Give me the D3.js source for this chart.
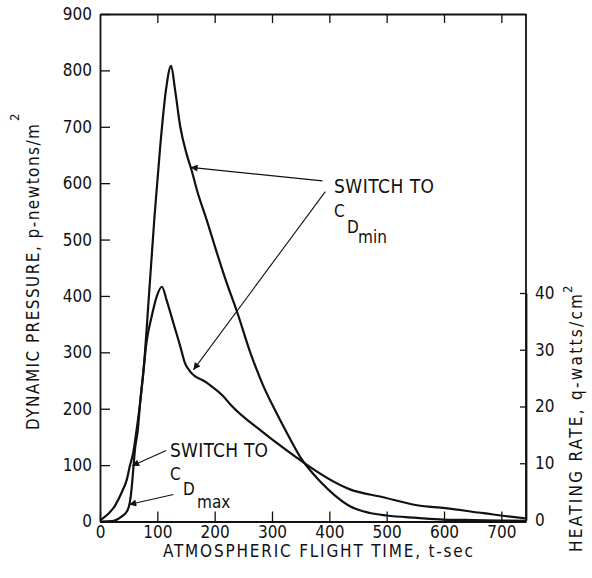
<!DOCTYPE html>
<html>
<head>
<meta charset="utf-8">
<script src="https://cdn.jsdelivr.net/npm/d3@7"></script>
<style>
  body { margin: 0; background: #fff; }
  svg { display: block; font-family: "DejaVu Sans Condensed", "Liberation Sans Narrow", sans-serif; }
</style>
</head>
<body>
<svg></svg>
<script>
/* data */
var dpTime  = [0, 20, 38, 47, 52, 55, 58, 61, 66, 70, 76, 85, 95, 105, 115, 124, 131, 140, 151, 160, 169, 186, 204, 221, 239, 262, 285, 305, 326, 352, 384, 410, 436, 471, 500, 553, 599, 650, 698, 742];
var dpValue = [0, 0.5, 9, 18, 34, 57, 92, 128, 163, 211, 269, 395, 540, 665, 765, 808, 765, 700, 652, 622, 588, 535, 476, 423, 372, 300, 240, 198, 157, 110, 71, 46, 27, 15, 10.6, 6.5, 3.5, 2.5, 1.8, 1];

var hrTime  = [0, 5, 26, 38, 47, 52, 58, 64, 70, 76, 81, 90, 99, 108, 116, 128, 140, 148, 157, 186, 215, 227, 285, 343, 354, 436, 494, 553, 602, 669, 727, 742];
var hrValue = [0, 0.3, 2.5, 4.9, 7.2, 9.5, 11.9, 16, 20.7, 26.5, 31.2, 35.8, 39.4, 41.1, 38.8, 34.7, 30.6, 27.7, 26.2, 24.2, 21.8, 20.4, 15.4, 11.0, 10.2, 5.4, 4.0, 2.6, 2.1, 1.2, 0.45, 0.3];

var xTicks = [0, 100, 200, 300, 400, 500, 600, 700];
var yLeftTicks = [0, 100, 200, 300, 400, 500, 600, 700, 800, 900];
var yRightTicks = [0, 10, 20, 30, 40];

// arrows in data units (t, dynamic pressure): tail then tip
var arrowTail = [[388, 604], [393, 585], [115.5, 126], [128, 48]];
var arrowTip  = [[158, 628], [163, 269], [56, 99], [51, 30]];

/* svg setting */
var svgWidth = 592;
var svgHeight = 578;
var margin = {top: 14, right: 66, bottom: 56.5, left: 100};
var width = svgWidth - margin.left - margin.right;
var height = svgHeight - margin.top - margin.bottom;

var svg = d3.select("svg")
    .attr('width', svgWidth)
    .attr('height', svgHeight);

var scale = {};
scale.x = d3.scaleLinear().domain([0, 743]).range([margin.left, margin.left + width]);
scale.yL = d3.scaleLinear().domain([0, 900]).range([margin.top + height, margin.top]);
scale.yR = d3.scaleLinear().domain([0, 40]).range([margin.top + height - 1.5, 293]);

var ink = '#111';

/* axes */
svg.append('g')
    .attr('transform', translate(0, scale.yL(0)))
    .call(d3.axisBottom(scale.x).tickValues(xTicks).tickSizeInner(-10).tickSizeOuter(0).tickPadding(4));

svg.append('g')
    .attr('transform', translate(0, margin.top))
    .call(d3.axisTop(scale.x).tickValues(xTicks.slice(1)).tickSizeInner(-9).tickSizeOuter(0).tickFormat(''));

svg.append('g')
    .attr('transform', translate(margin.left, 0))
    .call(d3.axisLeft(scale.yL).tickValues(yLeftTicks).tickSizeInner(-10).tickSizeOuter(0).tickPadding(8));

svg.append('g')
    .attr('transform', translate(margin.left + width, 0))
    .call(d3.axisRight(scale.yR).tickValues(yRightTicks).tickSizeInner(-6).tickSizeOuter(0).tickPadding(9));

// right frame line full height
svg.append('line')
    .attr('x1', margin.left + width).attr('x2', margin.left + width)
    .attr('y1', margin.top).attr('y2', scale.yL(0))
    .attr('stroke', ink).attr('stroke-width', 1.8);

svg.selectAll('.domain').attr('stroke', ink).attr('stroke-width', 1.8);
svg.selectAll('.tick line').attr('stroke', ink).attr('stroke-width', 1.3);
svg.selectAll('.tick text')
    .attr('fill', ink)
    .style('font-size', '17px')
    .style('font-family', '"DejaVu Sans Condensed", sans-serif');

/* curves */
var line = d3.line().curve(d3.curveMonotoneX);

var dpPoints = dpTime.map(function(t, i){ return [scale.x(t), scale.yL(dpValue[i])]; });
var hrPoints = hrTime.map(function(t, i){ return [scale.x(t), scale.yR(hrValue[i])]; });

svg.append('path')
    .attr('d', line(dpPoints))
    .attr('fill', 'none').attr('stroke', ink).attr('stroke-width', 2.2);

svg.append('path')
    .attr('d', line(hrPoints))
    .attr('fill', 'none').attr('stroke', ink).attr('stroke-width', 2.2);

/* arrows */
svg.append('defs').append('marker')
    .attr('id', 'head')
    .attr('markerUnits', 'userSpaceOnUse')
    .attr('viewBox', '0 0 10 10')
    .attr('refX', 10).attr('refY', 5)
    .attr('markerWidth', 11).attr('markerHeight', 7)
    .attr('orient', 'auto')
  .append('path')
    .attr('d', 'M0,0 L10,5 L0,10 Z')
    .attr('fill', ink);

svg.selectAll('.arrow')
    .data(arrowTail)
    .enter()
    .append('line')
    .attr('class', 'arrow')
    .attr('x1', function(d){ return scale.x(d[0]); })
    .attr('y1', function(d){ return scale.yL(d[1]); })
    .attr('x2', function(d, i){ return scale.x(arrowTip[i][0]); })
    .attr('y2', function(d, i){ return scale.yL(arrowTip[i][1]); })
    .attr('stroke', ink).attr('stroke-width', 1.1)
    .attr('marker-end', 'url(#head)');

/* annotations */
function label(x, y, txt, size, len){
  var t = svg.append('text')
      .attr('x', x).attr('y', y)
      .attr('fill', ink)
      .style('font-size', size + 'px')
      .text(txt);
  if(len) t.attr('textLength', len).attr('lengthAdjust', 'spacing');
  return t;
}

label(334, 193, 'SWITCH TO', 19, 100);
label(334, 217, 'C', 17);
label(347, 233, 'D', 17);
label(358, 243, 'min', 17);

label(170, 457, 'SWITCH TO', 19, 98);
label(170, 480, 'C', 17);
label(183, 495, 'D', 17);
label(197, 508, 'max', 17);

/* axis titles */
label(163, 557, 'ATMOSPHERIC FLIGHT TIME, t-sec', 17, 310);

svg.append('text')
    .attr('transform', translate(39, 430) + ' rotate(-90)')
    .attr('fill', ink).style('font-size', '17px')
    .attr('textLength', 306).attr('lengthAdjust', 'spacing')
    .text('DYNAMIC PRESSURE, p-newtons/m');
svg.append('text')
    .attr('transform', translate(19, 121) + ' rotate(-90)')
    .attr('fill', ink).style('font-size', '13px')
    .text('2');

svg.append('text')
    .attr('transform', translate(582, 552) + ' rotate(-90)')
    .attr('fill', ink).style('font-size', '17px')
    .attr('textLength', 258).attr('lengthAdjust', 'spacing')
    .text('HEATING RATE, q-watts/cm');
svg.append('text')
    .attr('transform', translate(572, 293) + ' rotate(-90)')
    .attr('fill', ink).style('font-size', '13px')
    .text('2');

function translate(x, y) {
  return 'translate(' + x + ',' + y + ')';
}
</script>
</body>
</html>
